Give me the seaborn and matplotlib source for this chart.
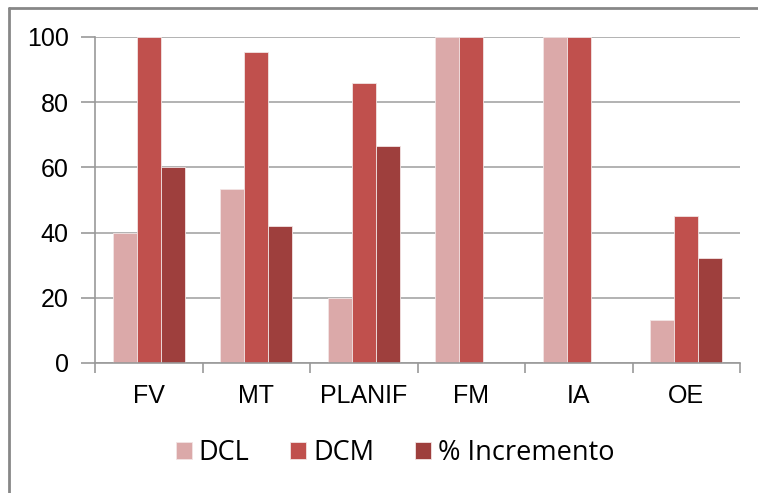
import numpy as np
import pandas as pd
import seaborn as sns
import matplotlib.pyplot as plt
from matplotlib.lines import Line2D
from matplotlib.ticker import FixedLocator

categories = ["FV", "MT", "PLANIF", "FM", "IA", "OE"]
dcl = [40, 53.3, 20, 100, 100, 13.3]
dcm = [100, 95.5, 86, 100, 100, 45]
incremento = [60, 42, 66.5, 0, 0, 32.2]
series = ["DCL", "DCM", "% Incremento"]
colors = ["#DBA9A9", "#C0504D", "#9E3F3D"]

df = pd.DataFrame({
    "cat": categories * 3,
    "val": dcl + dcm + incremento,
    "serie": [s for s in series for _ in categories],
})

sns.set_style("white")
plt.rcParams['font.family'] = ['Liberation Sans', 'DejaVu Sans']

fig = plt.figure(figsize=(7.58, 4.93), dpi=100)
ax = fig.add_axes([95 / 758, 1 - 363 / 493, (740 - 95) / 758, (363 - 37) / 493])

sns.barplot(data=df, x="cat", y="val", hue="serie", order=categories,
            hue_order=series, palette=colors, width=0.67, gap=0,
            saturation=1, ax=ax, linewidth=0.6, edgecolor="#F2E4E4")

ax.set_xlim(-0.5, len(categories) - 0.5)
ax.set_ylim(0, 100)
ax.set_yticks([0, 20, 40, 60, 80, 100])
ax.yaxis.grid(True, color="#A6A6A6", linewidth=1.2)
ax.set_axisbelow(True)
ax.set_xlabel("")
ax.set_ylabel("")

# ticks between categories
ax.tick_params(axis="x", which="major", length=0, pad=15, labelsize=18, labelcolor="black")
ax.xaxis.set_minor_locator(FixedLocator(np.arange(-0.5, len(categories), 1.0)))
ax.tick_params(axis="x", which="minor", bottom=True, length=7, width=1.2, color="#999999",
               direction="out")
ax.tick_params(axis="y", length=10, width=1.2, color="#999999", labelsize=18, pad=9,
               direction="out", left=True, labelcolor="black")

for side in ["top", "right"]:
    ax.spines[side].set_visible(False)
for side in ["left", "bottom"]:
    ax.spines[side].set_color("#999999")
    ax.spines[side].set_linewidth(1.2)

handles, labels = ax.get_legend_handles_labels()
ax.get_legend().remove()
leg = fig.legend(handles, labels, loc="center", bbox_to_anchor=(395 / 758, 1 - 453 / 493),
                 ncol=3, frameon=False, handlelength=0.6, handleheight=0.6,
                 handletextpad=0.25, columnspacing=1.5,
                 prop={"family": ["Open Sans", "DejaVu Sans"], "size": 19.5})
for t in leg.get_texts():
    t.set_color("black")

# outer chart frame (left and top edges visible)
fig.add_artist(Line2D([9 / 758, 9 / 758], [0, 1 - 8 / 493], transform=fig.transFigure,
                      color="#878787", linewidth=2))
fig.add_artist(Line2D([9 / 758, 1], [1 - 8 / 493, 1 - 8 / 493], transform=fig.transFigure,
                      color="#878787", linewidth=2))

plt.savefig("out.png", dpi=100)
